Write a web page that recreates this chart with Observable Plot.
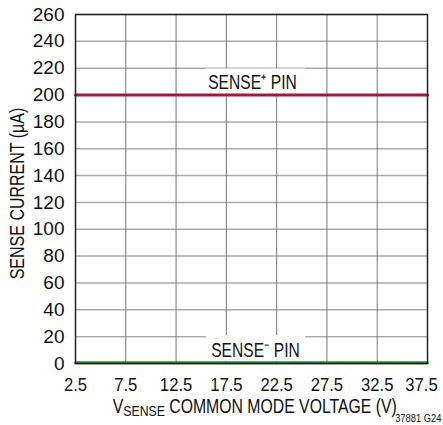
<!DOCTYPE html>
<html>
<head>
<meta charset="utf-8">
<script src="https://cdn.jsdelivr.net/npm/d3@7"></script>
<script src="https://cdn.jsdelivr.net/npm/@observablehq/plot@0.6"></script>
<style>
  body { margin: 0; background: #fff; }
  #wrap { position: relative; width: 443px; height: 425px; overflow: hidden; font-family: "Liberation Sans", Arial, sans-serif; }
  #xlabel { position: absolute; left: 0; top: 395px; width: 443px; box-sizing: border-box; padding-left: 75px; padding-right: 16px; text-align: center; font-size: 20px; line-height: 23px; color: #111; white-space: nowrap; }
  #xlabel span.sq { display: inline-block; transform: scaleX(0.79); transform-origin: 50% 50%; }
  #xlabel sub { font-size: 15.5px; vertical-align: -3px; line-height: 0; }
  #code { position: absolute; right: 2px; top: 412px; font-size: 11px; line-height: 12px; color: #111; transform: scaleX(0.85); transform-origin: 100% 50%; white-space: nowrap; }
</style>
</head>
<body>
<div id="wrap">
  <div id="chart"></div>
  <div id="xlabel"><span class="sq">V<sub>SENSE</sub> COMMON MODE VOLTAGE (V)</span></div>
  <div id="code">37881 G24</div>
</div>
<script>
// Data
const voltage = [2.5, 7.5, 12.5, 17.5, 22.5, 27.5, 32.5, 37.5];
const sensePlusCurrent = [200, 200, 200, 200, 200, 200, 200, 200];
const senseMinusCurrent = [0.5, 0.5, 0.5, 0.5, 0.5, 0.5, 0.5, 0.5];
const xTicks = [2.5, 7.5, 12.5, 17.5, 22.5, 27.5, 32.5, 37.5];
const yTicks = [0, 20, 40, 60, 80, 100, 120, 140, 160, 180, 200, 220, 240, 260];
const labelText = ["SENSE\u207A PIN", "SENSE\u207B PIN"];
const labelX = [20.1, 20.4];
const labelY = [209.5, 9.7];
const boxX1 = [15.5, 15.5];
const boxX2 = [25.4, 25.4];
const boxY1 = [200.8, 1.6];
const boxY2 = [219.4, 20.9];

const plusData = voltage.map((v, i) => ({v, c: sensePlusCurrent[i]}));
const minusData = voltage.map((v, i) => ({v, c: senseMinusCurrent[i]}));
const labels = labelText.map((t, i) => ({t, x: labelX[i], y: labelY[i]}));
const boxes = boxX1.map((x1, i) => ({x1, x2: boxX2[i], y1: boxY1[i], y2: boxY2[i]}));

const chart = Plot.plot({
  width: 443,
  height: 395,
  marginLeft: 75,
  marginRight: 16,
  marginTop: 14,
  marginBottom: 32,
  style: {fontFamily: "Liberation Sans, Arial, sans-serif", fontSize: "19px", color: "#111", background: "#fff", overflow: "visible"},
  x: {domain: [2.5, 37.5], ticks: xTicks, tickFormat: d => d.toFixed(1)},
  y: {domain: [0, 260], ticks: yTicks},
  marks: [
    Plot.gridY(yTicks, {stroke: "#aaa", strokeOpacity: 1, strokeWidth: 1.5}),
    Plot.gridX(xTicks, {stroke: "#777", strokeOpacity: 1, strokeWidth: 1}),
    Plot.rect(boxes, {x1: "x1", x2: "x2", y1: "y1", y2: "y2", fill: "#fff"}),
    Plot.line(plusData, {x: "v", y: "c", stroke: "#9e1a3c", strokeWidth: 3}),
    Plot.line(minusData, {x: "v", y: "c", stroke: "#2e8540", strokeWidth: 3}),
    Plot.text(labels, {x: "x", y: "y", text: "t", fontSize: 20, fill: "#111"}),
    Plot.axisX(xTicks, {tickSize: 0, tickPadding: 14, tickFormat: d => d.toFixed(1), label: null, fontSize: 18.5}),
    Plot.axisY(yTicks, {tickSize: 0, tickPadding: 11, label: null, fontSize: 19}),
    Plot.axisY({label: "SENSE CURRENT (\u00B5A)", labelAnchor: "center", labelArrow: "none", labelOffset: 66, ticks: [], tickSize: 0, fontSize: 20}),
    Plot.frame({stroke: "#222", strokeWidth: 1.5})
  ]
});
document.getElementById("chart").appendChild(chart);

// condense text to mimic the narrow typeface of the original
function squeeze(selector, k) {
  chart.querySelectorAll(selector).forEach(t => {
    const w = t.getComputedTextLength();
    t.setAttribute("textLength", (w * k).toFixed(2));
    t.setAttribute("lengthAdjust", "spacingAndGlyphs");
  });
}
squeeze('g[aria-label="text"] text', 0.78);
squeeze('g[aria-label="x-axis tick label"] text', 0.9);
squeeze('g[aria-label="y-axis label"] text', 0.8);
chart.querySelectorAll('g[aria-label="y-axis label"] text').forEach(t => t.setAttribute("dx", -4.5));
const xt = chart.querySelectorAll('g[aria-label="x-axis tick label"] text');
if (xt.length) xt[xt.length - 1].setAttribute("dx", -6);
</script>
</body>
</html>
